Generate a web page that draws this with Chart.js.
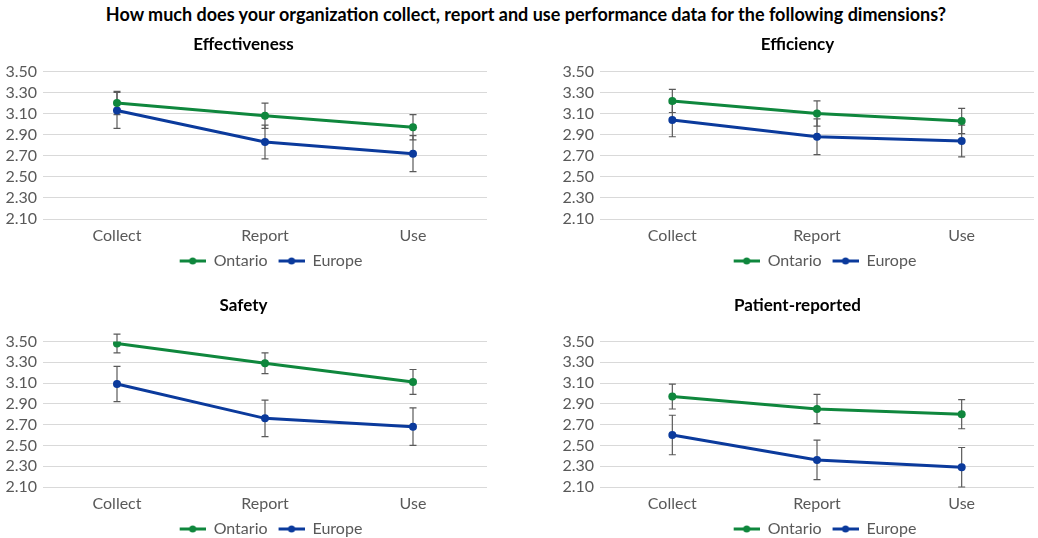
<!DOCTYPE html>
<html>
<head>
<meta charset="utf-8">
<script src="https://cdn.jsdelivr.net/npm/chart.js@4.4.1/dist/chart.umd.min.js"></script>
<style>
    body { margin: 0; width: 1038px; height: 538px; background: #fff; position: relative; overflow: hidden; font-family: Lato, sans-serif; }
    #mainTitle { position: absolute; top: 3px; left: 0; width: 1052px; text-align: center; font-weight: bold; font-size: 18px; line-height: 22px; color: #000; }
    .box { position: absolute; }
</style>
</head>
<body>
<div id="mainTitle">How much does your organization collect, report and use performance data for the following dimensions?</div>
<div class="box" style="left:0;top:30px;width:500px;height:245px"><canvas id="chartEff"></canvas></div>
<div class="box" style="left:520px;top:30px;width:518px;height:245px"><canvas id="chartEffi"></canvas></div>
<div class="box" style="left:0;top:292px;width:500px;height:246px"><canvas id="chartSafe"></canvas></div>
<div class="box" style="left:520px;top:292px;width:518px;height:246px"><canvas id="chartPat"></canvas></div>
<script>
const categories = ['Collect', 'Report', 'Use'];
const seriesNames = ['Ontario', 'Europe'];
const yTicks = [2.10, 2.30, 2.50, 2.70, 2.90, 3.10, 3.30, 3.50];

// Effectiveness
const effOntario = [3.20, 3.08, 2.97];
const effOntarioErr = [0.11, 0.12, 0.12];
const effEurope = [3.13, 2.83, 2.72];
const effEuropeErr = [0.17, 0.16, 0.17];

// Efficiency
const effiOntario = [3.22, 3.10, 3.03];
const effiOntarioErr = [0.11, 0.12, 0.12];
const effiEurope = [3.04, 2.88, 2.84];
const effiEuropeErr = [0.16, 0.17, 0.15];

// Safety
const safeOntario = [3.48, 3.29, 3.11];
const safeOntarioErr = [0.09, 0.10, 0.12];
const safeEurope = [3.09, 2.76, 2.68];
const safeEuropeErr = [0.17, 0.175, 0.18];

// Patient-reported
const patOntario = [2.97, 2.85, 2.80];
const patOntarioErr = [0.12, 0.14, 0.14];
const patEurope = [2.60, 2.36, 2.29];
const patEuropeErr = [0.19, 0.19, 0.19];

const GREEN = '#0f873d';
const BLUE = '#0b3a9c';
const GREY_TEXT = '#595959';

// legend symbol: short line with a dot; blank lead-in gives the gap between items
const legendSymbol = (color) => {
    const c = document.createElement('canvas');
    c.width = 37; c.height = 8;
    const g = c.getContext('2d');
    g.strokeStyle = color; g.lineWidth = 3;
    g.beginPath(); g.moveTo(11, 4); g.lineTo(37, 4); g.stroke();
    g.fillStyle = color;
    g.beginPath(); g.arc(24, 4, 3.5, 0, Math.PI * 2); g.fill();
    return c;
};
const symbols = [legendSymbol(GREEN), legendSymbol(BLUE)];

const errorBars = {
    id: 'errorBars',
    beforeDatasetsDraw(chart) {
        const { ctx, scales: { y } } = chart;
        ctx.save();
        ctx.strokeStyle = '#5a5a5a';
        ctx.lineWidth = 1.2;
        chart.data.datasets.forEach((ds, i) => {
            const meta = chart.getDatasetMeta(i);
            meta.data.forEach((pt, j) => {
                const v = ds.data[j];
                const e = ds.errors[j];
                const top = y.getPixelForValue(v + e);
                const bot = y.getPixelForValue(v - e);
                ctx.beginPath();
                ctx.moveTo(pt.x, top); ctx.lineTo(pt.x, bot);
                ctx.moveTo(pt.x - 3.5, top); ctx.lineTo(pt.x + 3.5, top);
                ctx.moveTo(pt.x - 3.5, bot); ctx.lineTo(pt.x + 3.5, bot);
                ctx.stroke();
            });
        });
        ctx.restore();
    }
};

// the original legend sits a bit right of centre
const legendShift = {
    id: 'legendShift',
    afterLayout(chart) {
        if (chart.legend) {
            chart.legend.left += 22;
            chart.legend.right += 22;
        }
    }
};

const makeChart = (id, title, ont, ontErr, eur, eurErr, pad) => {
    return new Chart(document.getElementById(id), {
        type: 'line',
        data: {
            labels: categories,
            datasets: [
                { label: seriesNames[0], data: ont, errors: ontErr, borderColor: GREEN, backgroundColor: GREEN, borderWidth: 3, pointRadius: 4, pointBorderWidth: 0, pointHoverRadius: 4, tension: 0 },
                { label: seriesNames[1], data: eur, errors: eurErr, borderColor: BLUE, backgroundColor: BLUE, borderWidth: 3, pointRadius: 4, pointBorderWidth: 0, pointHoverRadius: 4, tension: 0 }
            ]
        },
        options: {
            responsive: true,
            maintainAspectRatio: false,
            animation: false,
            layout: { padding: { left: pad.left, right: pad.right, top: 0, bottom: pad.bottom } },
            plugins: {
                title: {
                    display: true, text: title, color: '#000',
                    font: { family: 'Lato', size: 17, weight: 'bold' },
                    padding: { top: pad.titleTop, bottom: pad.titleGap }
                },
                legend: {
                    position: 'bottom',
                    labels: {
                        color: GREY_TEXT,
                        font: { family: 'Lato', size: 16 },
                        usePointStyle: true,
                        pointStyleWidth: 37,
                        boxHeight: 8,
                        padding: 0,
                        generateLabels: (chart) => chart.data.datasets.map((ds, i) => ({
                            text: ds.label, pointStyle: symbols[i], fontColor: GREY_TEXT,
                            strokeStyle: ds.borderColor, fillStyle: ds.borderColor, lineWidth: 0, datasetIndex: i
                        }))
                    }
                },
                tooltip: { enabled: false }
            },
            scales: {
                x: {
                    offset: true,
                    grid: { display: false, drawTicks: false },
                    border: { display: false },
                    ticks: { color: GREY_TEXT, font: { family: 'Lato', size: 16, lineHeight: 1 }, padding: 9 }
                },
                y: {
                    min: 2.10, max: 3.50,
                    afterBuildTicks: (axis) => { axis.ticks = yTicks.map(v => ({ value: v })); },
                    afterFit: (axis) => { axis.width = pad.axisW; },
                    grid: { color: '#d9d9d9', lineWidth: 1, drawTicks: false },
                    border: { display: false },
                    ticks: { color: GREY_TEXT, font: { family: 'Lato', size: 16 }, padding: 6, autoSkip: false, callback: (v) => Number(v).toFixed(2) }
                }
            }
        },
        plugins: [errorBars, legendShift]
    });
};

makeChart('chartEff', 'Effectiveness', effOntario, effOntarioErr, effEurope, effEuropeErr, { left: 0, right: 13, bottom: -4, titleTop: 4, titleGap: 17, axisW: 43 });
makeChart('chartEffi', 'Efficiency', effiOntario, effiOntarioErr, effiEurope, effiEuropeErr, { left: 38, right: 1, bottom: -4, titleTop: 4, titleGap: 17, axisW: 42 });
makeChart('chartSafe', 'Safety', safeOntario, safeOntarioErr, safeEurope, safeEuropeErr, { left: 0, right: 13, bottom: -9, titleTop: 3, titleGap: 26, axisW: 43 });
makeChart('chartPat', 'Patient-reported', patOntario, patOntarioErr, patEurope, patEuropeErr, { left: 38, right: 1, bottom: -9, titleTop: 3, titleGap: 26, axisW: 42 });
</script>
</body>
</html>
